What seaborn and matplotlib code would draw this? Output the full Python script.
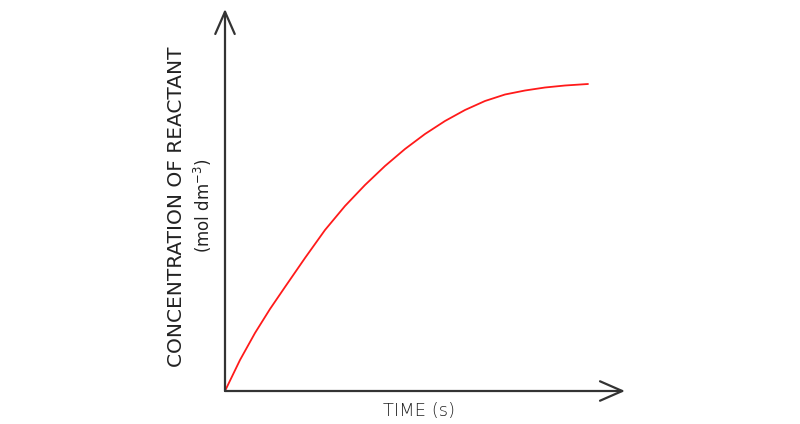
import matplotlib
matplotlib.use("Agg")
import matplotlib.pyplot as plt
import seaborn as sns
import pandas as pd

# Data (arbitrary units)
time_s = [0, 15, 30, 45, 60, 80, 100, 120, 140, 160, 180, 200, 220, 240,
          260, 280, 300, 320, 340, 363]
concentration = [0, 31, 58, 82, 104, 133, 161, 185, 206, 225, 242, 257, 270, 281,
                 290, 296.5, 300.5, 303.5, 305.5, 307]

x_label = "TIME (s)"
y_label = "CONCENTRATION OF REACTANT"
y_unit = "(mol dm$^{-3}$)"

sns.set_style("white")
plt.rcParams['font.family'] = ['DejaVu Sans']

fig = plt.figure(figsize=(8, 4.24), dpi=100)
ax = fig.add_axes([225/800, 33/424, 400/800, 380/424])

df = pd.DataFrame({"t": time_s, "c": concentration})
sns.lineplot(data=df, x="t", y="c", ax=ax, color="#ff1a1a", linewidth=1.3)

ax.set_xlim(0, 400)
ax.set_ylim(0, 380)
for s in ax.spines.values():
    s.set_visible(False)
ax.set_xticks([])
ax.set_yticks([])
ax.set_xlabel("")
ax.set_ylabel("")

arrow_kw = dict(arrowstyle="->,head_length=1.6,head_width=0.7", color="#333333",
                lw=1.6, shrinkA=0, shrinkB=0)
ax.annotate("", xy=(400, 0), xytext=(0, 0), xycoords="data", arrowprops=arrow_kw,
            annotation_clip=False)
ax.annotate("", xy=(0, 382), xytext=(0, 0), xycoords="data", arrowprops=arrow_kw,
            annotation_clip=False)

fig.text(419/800, 1 - 411/424, x_label, ha="center", va="center", fontsize=13,
         color="#222222", fontweight="light")
fig.text(177/800, 1 - 207/424, y_label, ha="center", va="center", rotation=90,
         fontsize=14.5, color="#222222")
fig.text(203/800, 1 - 206/424, y_unit, ha="center", va="center", rotation=90,
         fontsize=12, color="#222222")

fig.savefig("out.png", dpi=100, facecolor="white")
